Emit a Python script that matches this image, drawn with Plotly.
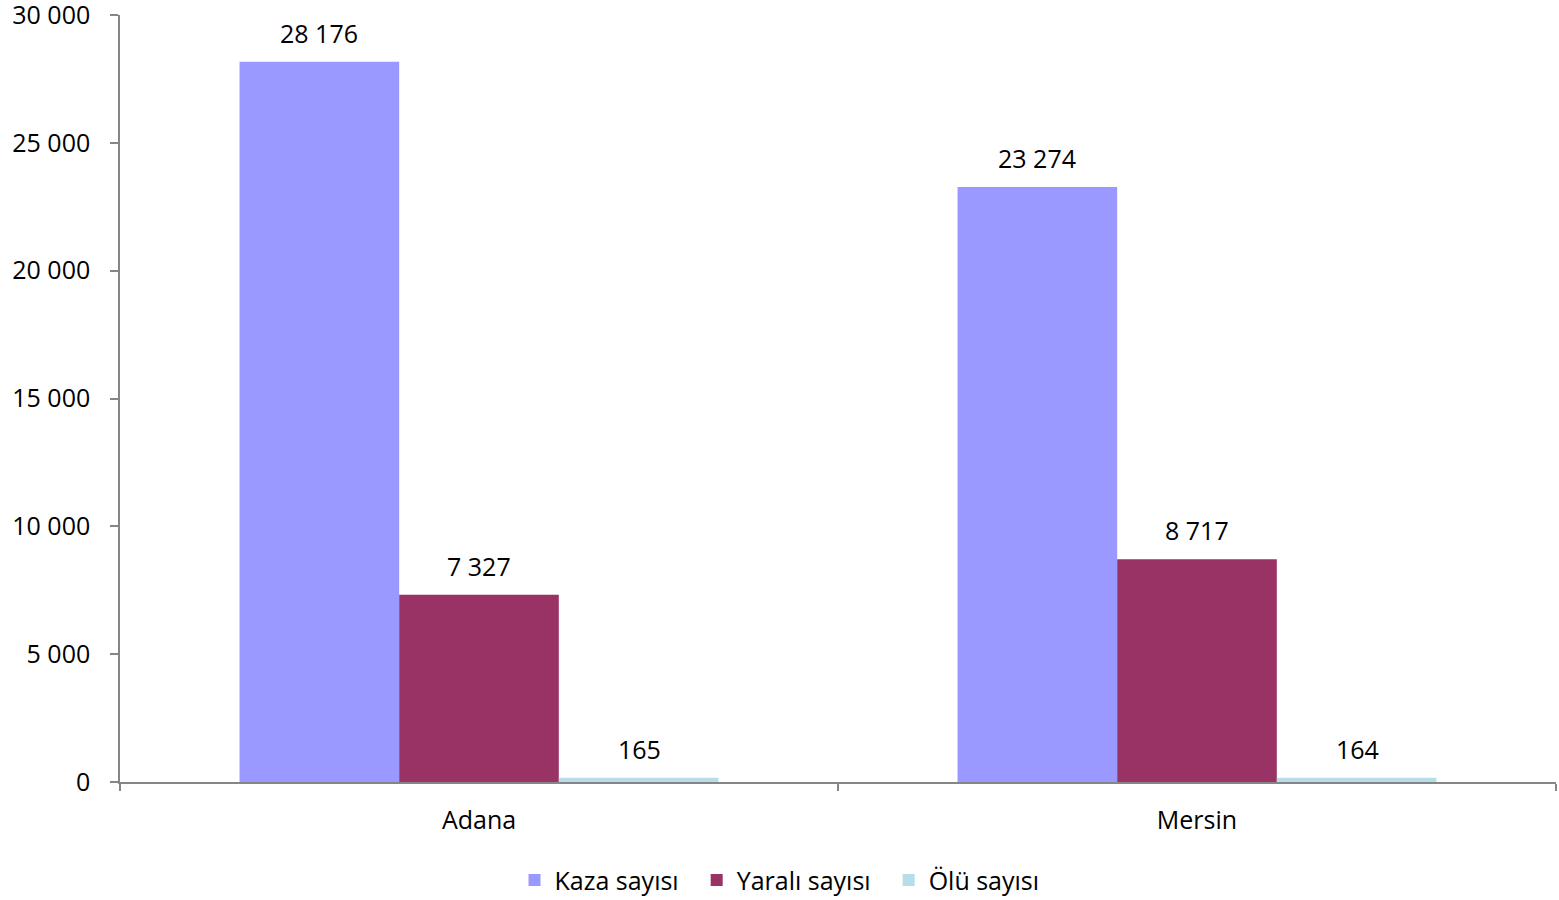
import plotly.graph_objects as go

categories = ["Adana", "Mersin"]
series_names = ["Kaza sayısı", "Yaralı sayısı", "Ölü sayısı"]
kaza = [28176, 23274]
yarali = [7327, 8717]
olu = [165, 164]
colors = ["#9999FF", "#993366", "#B7DEE8"]
y_ticks = [0, 5000, 10000, 15000, 20000, 25000, 30000]

FONT = "Open Sans"
FS = 25
PAD = "\u00a0\u00a0"

fig = go.Figure()
values = [kaza, yarali, olu]
for i, (name, vals, col) in enumerate(zip(series_names, values, colors)):
    fig.add_trace(go.Bar(
        x=categories, y=vals, name=name + (PAD if i < len(series_names) - 1 else ""),
        marker=dict(color=col, line=dict(width=0)),
        hoverinfo="x+y+name",
    ))

# data labels as annotations positioned over each grouped bar
bar_px = 160
offsets = [-bar_px, 0, bar_px]
for vals, off in zip(values, offsets):
    for cat, v in zip(categories, vals):
        fig.add_annotation(
            x=cat, y=v, text=f"{v:,}".replace(",", " "),
            showarrow=False, xshift=off, yshift=29, yanchor="middle",
            font=dict(family=FONT, size=FS, color="black"),
        )

fig.update_layout(
    width=1559, height=900,
    barmode="group", bargap=0.333, bargroupgap=0,
    separators=", ",
    paper_bgcolor="white", plot_bgcolor="white",
    margin=dict(l=120, r=3, t=15, b=118, autoexpand=False),
    font=dict(family=FONT, size=FS, color="black"),
    showlegend=True,
    legend=dict(
        orientation="h", xref="container", yref="container",
        x=0.5, xanchor="center", y=0.022, yanchor="middle",
        font=dict(family=FONT, size=FS, color="black"),
        itemwidth=30, tracegroupgap=0,
    ),
    xaxis=dict(
        showline=True, linecolor="#868686", linewidth=1.5,
        ticks="outside", tickson="boundaries", ticklen=7, tickcolor="#868686",
        tickwidth=1.5, showgrid=False, ticklabelstandoff=15, automargin=False,
        tickfont=dict(family=FONT, size=FS, color="black"),
    ),
    yaxis=dict(
        range=[0, 30000], tickvals=y_ticks, tickformat=",",
        showline=True, linecolor="#868686", linewidth=1.5,
        ticks="outside", ticklen=8, tickcolor="#868686", tickwidth=1.5,
        showgrid=False, zeroline=False, ticklabelstandoff=15,
        ticklabeloverflow="allow", automargin=False,
        tickfont=dict(family=FONT, size=FS, color="black"),
    ),
)

fig.write_html("out.html", config={"displayModeBar": False},
               post_script="document.body.style.margin='0';")
